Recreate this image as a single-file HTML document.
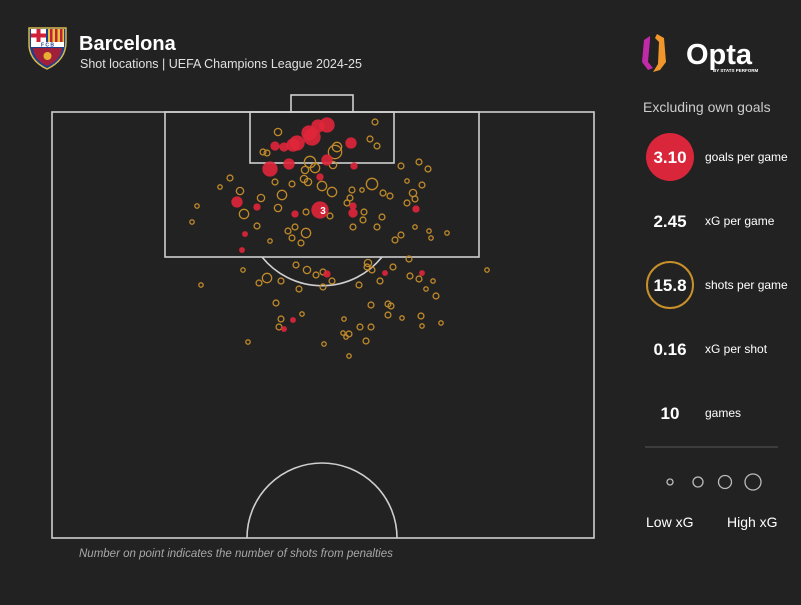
<!DOCTYPE html>
<html><head><meta charset="utf-8"><style>
html,body{margin:0;padding:0;background:#222222;}
body{width:801px;height:600px;overflow:hidden;font-family:"Liberation Sans",sans-serif;}
</style></head><body>
<svg width="801" height="600" viewBox="0 0 801 600" xmlns="http://www.w3.org/2000/svg">
<rect width="801" height="600" fill="#222222"/>
<g>
<path d="M29 28 L66 28 L66 42 Q66 60 47 69 Q28 60 29 42 Z" fill="#1d3f8f" stroke="#d6b84a" stroke-width="1.5"/>
<rect x="31" y="29" width="15" height="13" fill="#fff"/>
<rect x="36.5" y="29" width="4" height="13" fill="#d0203a"/>
<rect x="31" y="33.5" width="15" height="4" fill="#d0203a"/>
<rect x="48" y="29" width="16" height="13" fill="#e8c23a"/>
<rect x="50" y="29" width="2.5" height="13" fill="#c0203a"/><rect x="55" y="29" width="2.5" height="13" fill="#c0203a"/><rect x="60" y="29" width="2.5" height="13" fill="#c0203a"/>
<rect x="31" y="42" width="33" height="5" fill="#fff"/>
<text x="47.5" y="46.5" font-size="5" font-weight="bold" text-anchor="middle" fill="#1d3f8f">F C B</text>
<path d="M33 48 L62 48 Q61 60 47 66 Q34 60 33 48Z" fill="#a0203a"/>
<circle cx="47.5" cy="56" r="4" fill="#e8b030"/>
</g>
<text x="79" y="50" font-size="20" font-weight="bold" fill="#ffffff">Barcelona</text>
<text x="80" y="68" font-size="12.5" fill="#e0e0e0">Shot locations | UEFA Champions League 2024-25</text>
<g>
<path d="M650 36 L644 40 L642 62 L648 70 L653 68 L648 62 L650 40 Z" fill="#c02aa8"/>
<path d="M657 34 L664 38 L666 62 L660 70 L653 72 L658 64 L659 42 L655 38 Z" fill="#f0962a"/>
<text x="686" y="64" font-size="29" font-weight="bold" fill="#ffffff">Opta</text>
<text x="713" y="72" font-size="4.5" font-weight="bold" fill="#ffffff">BY STATS PERFORM</text>
</g>
<g fill="none" stroke="#cfcfcf" stroke-width="1.6">
<rect x="52" y="112" width="542" height="426"/>
<rect x="165" y="112" width="314" height="145"/>
<rect x="250" y="112" width="144" height="51"/>
<rect x="291" y="95" width="62" height="17"/>
<path d="M262 257 A77 77 0 0 0 382 257"/>
<path d="M247 538 A75 75 0 0 1 397 538"/>
</g>
<g id="shots"></g>
<text x="79" y="557" font-size="11.5" font-style="italic" fill="#a8a8a8">Number on point indicates the number of shots from penalties</text>
<g>
<text x="643" y="112" font-size="14" fill="#cccccc">Excluding own goals</text>
<circle cx="670" cy="157" r="24" fill="#d9263a"/>
<text x="670" y="163" font-size="17" font-weight="bold" fill="#fff" text-anchor="middle">3.10</text>
<text x="705" y="161" font-size="12" fill="#fff">goals per game</text>
<text x="670" y="227" font-size="17" font-weight="bold" fill="#fff" text-anchor="middle">2.45</text>
<text x="705" y="225" font-size="12" fill="#fff">xG per game</text>
<circle cx="670" cy="285" r="23" fill="none" stroke="#c8902a" stroke-width="2"/>
<text x="670" y="291" font-size="17" font-weight="bold" fill="#fff" text-anchor="middle">15.8</text>
<text x="705" y="289" font-size="12" fill="#fff">shots per game</text>
<text x="670" y="355" font-size="17" font-weight="bold" fill="#fff" text-anchor="middle">0.16</text>
<text x="705" y="353" font-size="12" fill="#fff">xG per shot</text>
<text x="670" y="419" font-size="17" font-weight="bold" fill="#fff" text-anchor="middle">10</text>
<text x="705" y="417" font-size="12" fill="#fff">games</text>
<line x1="645" y1="447" x2="778" y2="447" stroke="#555" stroke-width="1"/>
<g fill="none" stroke="#bbbbbb" stroke-width="1.3">
<circle cx="670" cy="482" r="3"/><circle cx="698" cy="482" r="5"/><circle cx="725" cy="482" r="6.5"/><circle cx="753" cy="482" r="8"/>
</g>
<text x="646" y="527" font-size="14" fill="#fff">Low xG</text>
<text x="727" y="527" font-size="14" fill="#fff">High xG</text>
</g>
</svg>
<script>
// shots: x = distance from left touchline, y = distance from goal line (pitch units)
const shotX=[323,226,318,325,285,283,211,215,258,263,253,281,252,256,270,240,223,178,168,188,209,230,280,300,310,320,331,338,349,367,376,355,370,361,363,355,145,140,192,226,254,278,295,298,312,311,330,301,325,363,205,218,236,243,240,254,249,377,379,349,343,395,191,149,207,215,229,244,255,264,271,280,271,247,316,320,315,341,357,307,328,358,367,381,374,384,435,224,250,229,227,196,272,292,308,319,291,297,294,314,297,319,336,339,336,350,369,370,389];
const shotY=[10,20,27,34,35,40,40,41,50,56,58,53,67,70,74,72,70,66,75,79,86,83,80,78,78,72,81,84,54,50,57,69,73,81,87,91,94,110,102,96,100,104,91,86,100,108,105,115,115,115,114,129,119,115,126,121,131,119,126,123,128,121,158,173,171,166,169,153,158,163,160,169,175,177,151,158,155,155,147,173,169,164,167,169,177,184,158,191,202,207,215,230,232,207,215,215,221,222,225,229,244,193,192,194,203,206,204,214,211];
const shotXG=[.03,.06,.03,.03,.12,.3,.03,.03,.2,.12,.06,.06,.06,.06,.12,.03,.03,.03,.01,.06,.06,.12,.12,.03,.01,.2,.03,.03,.03,.03,.03,.01,.03,.06,.03,.03,.01,.01,.12,.06,.03,.03,.03,.03,.03,.03,.03,.03,.03,.01,.03,.01,.03,.03,.03,.12,.03,.01,.01,.03,.03,.01,.01,.01,.03,.12,.03,.03,.06,.03,.03,.03,.03,.03,.06,.03,.03,.03,.03,.03,.03,.03,.03,.01,.01,.03,.01,.03,.01,.03,.03,.01,.01,.01,.03,.03,.01,.03,.01,.03,.01,.03,.03,.03,.03,.01,.03,.01,.01];
const goalX=[275,266,260,257,245,241,232,223,299,218,237,275,302,268,185,205,243,268,301,301,364,193,190,275,333,370,241,232];
const goalY=[13,14,25,21,31,33,35,34,31,57,52,48,54,65,90,95,102,98,94,101,97,122,138,162,161,161,208,217];
const goalXG=[.42,.3,.56,.42,.42,.3,.12,.12,.2,.42,.2,.2,.06,.06,.2,.06,.06,.56,.06,.12,.06,.03,.03,.06,.03,.03,.03,.03];
const penaltyIndex=[17];
const penaltyCount=[3];

function px(v){return 52+v;}
function py(v){return 112+v;}
function pr(xg){return 1.2+10*Math.sqrt(xg);}
const NS="http://www.w3.org/2000/svg";
const layer=document.getElementById('shots');
for(let i=0;i<shotX.length;i++){
  const c=document.createElementNS(NS,'circle');
  c.setAttribute('cx',px(shotX[i]));c.setAttribute('cy',py(shotY[i]));c.setAttribute('r',pr(shotXG[i]));
  c.setAttribute('fill','none');c.setAttribute('stroke','#c08a2a');c.setAttribute('stroke-width','1.3');
  
  
  layer.appendChild(c);
}
for(let i=0;i<goalX.length;i++){
  const c=document.createElementNS(NS,'circle');
  c.setAttribute('cx',px(goalX[i]));c.setAttribute('cy',py(goalY[i]));c.setAttribute('r',pr(goalXG[i]));
  c.setAttribute('fill','#e0263a');c.setAttribute('fill-opacity','0.9');
  
  
  layer.appendChild(c);
}
for(let k=0;k<penaltyIndex.length;k++){
  const i=penaltyIndex[k];
  const t=document.createElementNS(NS,'text');
  t.setAttribute('x',px(goalX[i])+3);t.setAttribute('y',py(goalY[i])+4);
  t.setAttribute('font-size','10');t.setAttribute('font-weight','bold');t.setAttribute('fill','#fff');
  t.setAttribute('text-anchor','middle');
  t.textContent=penaltyCount[k];
  
  
  layer.appendChild(t);
}
</script>
</body></html>
